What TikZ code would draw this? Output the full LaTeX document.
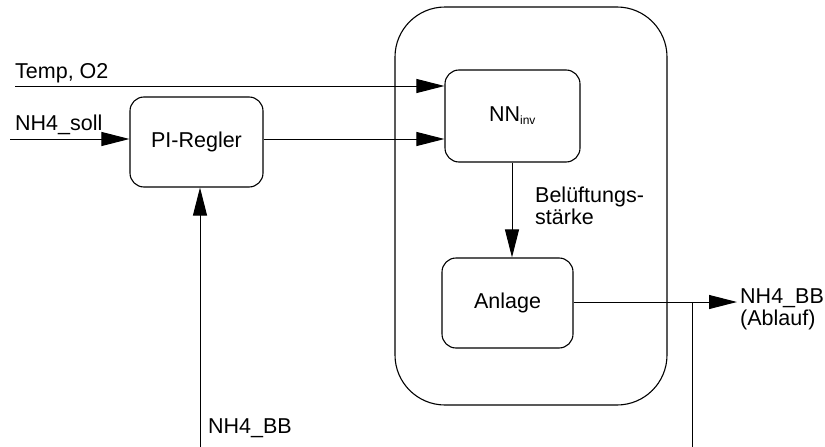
\documentclass[tikz,border=0pt]{standalone}
\usepackage{fontspec}
\setmainfont{Liberation Sans}
\usetikzlibrary{arrows.meta}
\begin{document}
\begin{tikzpicture}[x=1pt,y=-1pt,
  blk/.style={draw,line width=1.1pt,rounded corners=14pt,inner sep=0pt},
  lbl/.style={inner sep=0pt,align=left,font=\fontsize{21.5}{22}\selectfont},
  sig/.style={line width=1pt},
  arr/.style={sig,-{Triangle[length=28pt,width=14pt]}}]
\useasboundingbox (0,0) rectangle (825,447);
% outer frame around the inverse network and the plant
\draw[line width=1.1pt,rounded corners=50pt] (395,7) rectangle (667,405);
% blocks
\node[blk,minimum width=133pt,minimum height=90pt] (pi) at (196.5,142) {};
\node[lbl] at (pi.center) {PI-Regler};
\node[blk,minimum width=135pt,minimum height=92pt] (nn) at (512.5,116) {};
\node[lbl] at (nn.center) {NN\textsubscript{\fontsize{12}{12}\selectfont inv}};
\node[blk,minimum width=131pt,minimum height=90pt] (an) at (507.5,303) {};
\node[lbl] at (an.center) {Anlage};
% signal end points
\coordinate (tin) at (15,86);
\coordinate (sin) at (10,139);
\coordinate (out) at (737,302);
\coordinate (tap) at (692,302);
\coordinate (tapb) at (692,447);
\coordinate (fbb) at (200,447);
% connectors
\draw[arr] (tin) -- (tin -| nn.west);
\draw[arr] (sin) -- (pi.west |- sin);
\draw[arr] (pi.east |- sin) -- (nn.west |- sin);
\draw[arr] (nn.south -| 512,0) -- (an.north -| 512,0);
\draw[arr] (an.east |- out) -- (out);
\draw[sig] (tap) -- (tapb);
\draw[arr] (fbb) -- (fbb |- pi.south);
% labels (two-line labels are placed by the baseline of their last line)
\node[lbl,anchor=base west] at (15,78) {Temp, O2};
\node[lbl,anchor=base west] at (15,130) {NH4\_soll};
\node[lbl,anchor=base west] at (535,224) {Belüftungs-\\stärke};
\node[lbl,anchor=base west] at (740,325) {NH4\_BB\\(Ablauf)};
\node[lbl,anchor=base west] at (208,433) {NH4\_BB};
\end{tikzpicture}
\end{document}
